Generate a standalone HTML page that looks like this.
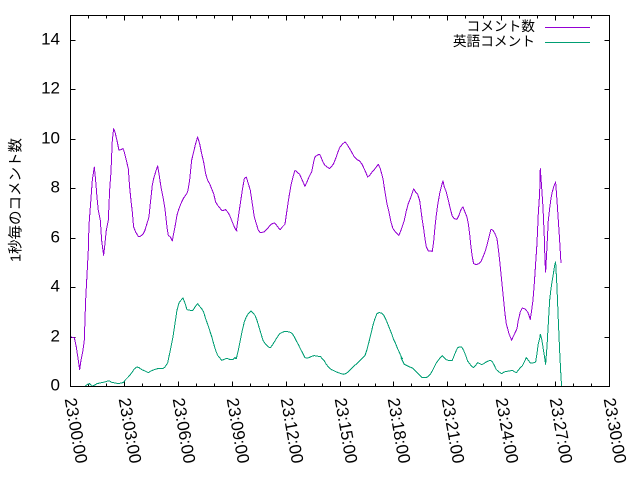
<!DOCTYPE html>
<html><head><meta charset="utf-8"><style>
html,body{margin:0;padding:0;background:#fff;}
svg{display:block;}
text{font-family:"Liberation Sans","Noto Sans CJK JP",sans-serif;fill:#000;}
</style></head><body>
<svg width="640" height="480" viewBox="0 0 640 480" xmlns="http://www.w3.org/2000/svg">
<rect width="640" height="480" fill="#fff"/>
<!-- ticks -->
<g stroke="#000" stroke-width="1" fill="none">
<path d="M70.5,386.5h5M609.5,386.5h-5M70.5,337.5h5M609.5,337.5h-5M70.5,287.5h5M609.5,287.5h-5M70.5,238.5h5M609.5,238.5h-5M70.5,188.5h5M609.5,188.5h-5M70.5,139.5h5M609.5,139.5h-5M70.5,89.5h5M609.5,89.5h-5M70.5,40.5h5M609.5,40.5h-5"/>
<path d="M124.5,386.5v-5M124.5,15.5v5M178.5,386.5v-5M178.5,15.5v5M232.5,386.5v-5M232.5,15.5v5M286.5,386.5v-5M286.5,15.5v5M340.5,386.5v-5M340.5,15.5v5M393.5,386.5v-5M393.5,15.5v5M447.5,386.5v-5M447.5,15.5v5M501.5,386.5v-5M501.5,15.5v5M555.5,386.5v-5M555.5,15.5v5"/>
<path d="M88.5,386.5v-3M88.5,15.5v3M106.5,386.5v-3M106.5,15.5v3M142.5,386.5v-3M142.5,15.5v3M160.5,386.5v-3M160.5,15.5v3M196.5,386.5v-3M196.5,15.5v3M214.5,386.5v-3M214.5,15.5v3M250.5,386.5v-3M250.5,15.5v3M268.5,386.5v-3M268.5,15.5v3M304.5,386.5v-3M304.5,15.5v3M322.5,386.5v-3M322.5,15.5v3M358.5,386.5v-3M358.5,15.5v3M375.5,386.5v-3M375.5,15.5v3M411.5,386.5v-3M411.5,15.5v3M429.5,386.5v-3M429.5,15.5v3M465.5,386.5v-3M465.5,15.5v3M483.5,386.5v-3M483.5,15.5v3M519.5,386.5v-3M519.5,15.5v3M537.5,386.5v-3M537.5,15.5v3M573.5,386.5v-3M573.5,15.5v3M591.5,386.5v-3M591.5,15.5v3"/>
</g>
<!-- y labels -->
<g font-size="17" text-anchor="end">
<text x="60" y="390.5">0</text>
<text x="60" y="341.5">2</text>
<text x="60" y="291.5">4</text>
<text x="60" y="242.5">6</text>
<text x="60" y="192.5">8</text>
<text x="60" y="143.5">10</text>
<text x="60" y="93.5">12</text>
<text x="60" y="44.5">14</text>
</g>
<!-- x labels -->
<g font-size="17">
<text transform="translate(70.5,398) rotate(80)" x="0" y="6">23:00:00</text>
<text transform="translate(124.5,398) rotate(80)" x="0" y="6">23:03:00</text>
<text transform="translate(178.5,398) rotate(80)" x="0" y="6">23:06:00</text>
<text transform="translate(232.5,398) rotate(80)" x="0" y="6">23:09:00</text>
<text transform="translate(286.5,398) rotate(80)" x="0" y="6">23:12:00</text>
<text transform="translate(340.5,398) rotate(80)" x="0" y="6">23:15:00</text>
<text transform="translate(393.5,398) rotate(80)" x="0" y="6">23:18:00</text>
<text transform="translate(447.5,398) rotate(80)" x="0" y="6">23:21:00</text>
<text transform="translate(501.5,398) rotate(80)" x="0" y="6">23:24:00</text>
<text transform="translate(555.5,398) rotate(80)" x="0" y="6">23:27:00</text>
<text transform="translate(609.5,398) rotate(80)" x="0" y="6">23:30:00</text>
</g>
<!-- y axis title -->
<text transform="translate(20.5,200) rotate(-90)" font-size="14.5" text-anchor="middle">1秒毎のコメント数</text>
<!-- legend -->
<text x="535" y="31" font-size="13.7" text-anchor="end">コメント数</text>
<text x="535" y="46" font-size="13.7" text-anchor="end">英語コメント</text>
<path d="M545,27.5H590" stroke="#9400d3" stroke-width="1"/>
<path d="M545,42.5H590" stroke="#009e73" stroke-width="1"/>
<!-- purple series -->
<g fill="none" stroke="#9400d3" stroke-width="3" stroke-linejoin="round" shape-rendering="crispEdges">
<polyline transform="translate(68.3,120.3) scale(0.33333)" points="6,650 18,652 24,680 30,720 34,748 38,720 44,690 48,660 52,540 56,465 60,390 62,315 68,235 72,180 78,140 82,180 86,230 90,270 96,300 100,360 106,405 110,370 114,330 120,300 124,210 128,155 132,60 136,25 140,35 146,60 152,90 158,88 164,85 168,95 174,120 180,145 184,200 188,240 192,275 196,320 202,335 210,348 216,348 224,342 230,330 236,310 242,290 246,250 252,195 256,175 262,155 268,137 272,160 278,200 284,230 290,265 296,320 300,345 306,350 312,362 316,340 320,320 326,285 332,265 340,245 346,233 352,225 358,215 364,180 370,120 376,95 382,70 388,50 394,70 400,100 406,125 412,160 418,180 424,190 430,205 436,220 442,245 448,255 454,262 460,270 466,270 472,268 478,275 484,285 490,300 496,315 502,328 506,332 508,332"/>
<polyline transform="translate(234.3,120.3) scale(0.33333)" points="6,332 12,290 18,250 24,210 30,175 36,170 42,190 48,210 54,250 60,290 66,310 72,330 78,337 90,335 96,328 102,322 108,314 114,310 120,308 126,314 132,322 138,328 144,320 152,312 158,270 164,230 170,195 176,170 182,150 188,155 196,162 204,180 212,198 218,185 224,170 232,155 238,125 242,110 250,104 256,102 260,110 266,125 272,135 278,140 286,145 292,138 298,130 304,115 310,98 316,82 324,72 332,65 338,72 346,85 352,95 360,110 368,118 376,122 382,130 388,142 394,155 400,170 406,165 412,157 420,148 426,140 432,132 438,145 446,175 452,215 458,250 464,275 470,305 476,325 482,333 488,340 494,345 500,330 502,330"/>
<polyline transform="translate(400.3,120.3) scale(0.33333)" points="2,330 6,318 12,300 18,272 24,250 30,235 36,218 40,206 46,215 52,222 58,240 62,270 66,300 70,325 74,355 78,380 84,392 96,393 100,365 104,320 108,285 112,255 118,220 124,195 128,182 132,200 138,215 144,240 150,265 156,288 162,295 170,297 176,285 182,268 188,260 194,275 200,290 204,310 208,340 212,380 216,410 220,430 228,433 236,430 242,424 248,410 254,395 260,375 266,350 272,327 278,330 284,340 290,355 294,385 298,420 302,460 306,500 310,540 314,580 318,610 322,625 326,640 330,650 334,660 338,650 344,638 350,625 354,600 360,575 366,563 374,566 382,575 386,585 390,597 394,570 398,540 402,490 406,430 410,370 414,280 418,220 420,145 424,200 428,260 432,350 434,420 436,455 440,380 444,300 448,265 452,235 456,215 460,200 464,190 466,185 470,240 474,300 478,360 482,428"/>
</g>
<!-- teal series -->
<g fill="none" stroke="#009e73" stroke-width="3" stroke-linejoin="round" shape-rendering="crispEdges">
<polyline transform="translate(68.3,120.3) scale(0.33333)" points="50,798 58,792 64,790 72,797 78,795 86,790 100,787 110,785 118,782 124,782 130,786 140,788 150,790 160,788 166,786 170,780 180,770 190,758 198,746 206,740 212,742 220,748 230,752 240,757 248,752 258,748 268,745 284,745 290,740 298,728 306,690 314,650 320,610 326,570 332,548 338,540 344,533 350,548 356,568 366,570 374,570 380,560 388,550 394,558 400,565 406,575 412,595 418,612 424,630 430,648 436,670 442,690 448,705 454,712 460,720 466,718 472,715 478,715 486,718 494,718 500,712 506,713"/>
<polyline transform="translate(234.3,120.3) scale(0.33333)" points="0,713 6,715 12,690 18,660 24,630 30,605 36,590 42,580 50,572 56,578 62,585 68,600 74,620 80,640 86,660 94,672 102,680 108,682 114,675 120,665 128,652 136,640 144,636 152,633 160,634 168,636 174,640 180,650 186,662 192,672 198,685 206,700 212,712 218,714 224,712 232,708 240,706 252,708 258,708 264,716 270,722 276,732 282,740 288,746 296,750 304,754 312,757 320,760 328,762 334,760 340,756 346,750 352,744 358,738 364,733 370,728 378,720 384,714 392,706 398,688 404,665 410,640 416,615 422,595 428,580 434,577 442,578 448,584 454,596 460,610 466,625 472,640 478,658 484,670 490,685 496,698 502,712 506,716"/>
<polyline transform="translate(400.3,120.3) scale(0.33333)" points="2,712 8,724 12,732 20,736 28,740 36,743 42,748 48,754 54,760 60,766 66,772 78,772 84,768 90,762 96,752 102,740 108,728 114,720 120,712 126,706 132,712 138,718 144,720 156,720 160,710 166,695 172,682 178,680 184,680 190,690 196,705 202,722 208,730 214,738 220,742 226,735 232,727 238,730 244,733 250,730 256,726 262,723 270,720 276,724 282,735 288,748 296,755 304,760 312,755 320,753 328,752 336,750 342,754 348,757 354,750 360,742 366,737 372,725 378,712 384,720 390,728 398,728 406,725 410,700 414,670 418,655 420,642 424,655 428,680 432,705 436,732 440,680 444,610 448,540 452,505 456,480 460,455 464,430 466,425 470,500 474,600 478,690 482,770 484,798"/>
</g>
<!-- frame -->
<rect x="70.5" y="15.5" width="539" height="371" fill="none" stroke="#000" stroke-width="1"/>
</svg>
</body></html>
